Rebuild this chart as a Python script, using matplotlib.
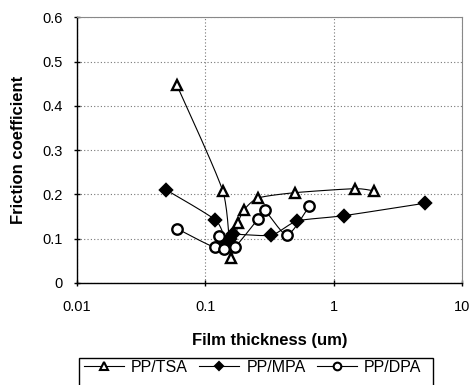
import matplotlib
matplotlib.use("Agg")
import matplotlib.pyplot as plt
from matplotlib.patches import Rectangle
import numpy as np

plt.rcParams['font.family'] = ['Liberation Sans', 'DejaVu Sans']

# Data
tsa_x = [0.06, 0.137, 0.158, 0.18, 0.2, 0.258, 0.5, 1.46, 2.06]
tsa_y = [0.447, 0.207, 0.056, 0.135, 0.165, 0.192, 0.204, 0.213, 0.208]

mpa_x = [0.049, 0.12, 0.145, 0.155, 0.165, 0.327, 0.52, 1.2, 5.1]
mpa_y = [0.211, 0.142, 0.092, 0.1, 0.11, 0.108, 0.14, 0.152, 0.18]

dpa_x = [0.06, 0.118, 0.128, 0.139, 0.17, 0.258, 0.29, 0.434, 0.643]
dpa_y = [0.123, 0.081, 0.107, 0.076, 0.081, 0.145, 0.164, 0.108, 0.173]


def smooth(xs, ys, n=20):
    # Catmull-Rom through the points in (log x, y) space, like Excel's smoothed lines
    lx = np.log10(xs)
    y = np.asarray(ys, float)
    px = np.concatenate([[lx[0]], lx, [lx[-1]]])
    py = np.concatenate([[y[0]], y, [y[-1]]])
    outx, outy = [], []
    t = np.linspace(0, 1, n)
    for i in range(1, len(px) - 2):
        for p, out in ((px, outx), (py, outy)):
            p0, p1, p2, p3 = p[i - 1], p[i], p[i + 1], p[i + 2]
            m1 = (p2 - p0) / 2 / 1.5
            m2 = (p3 - p1) / 2 / 1.5
            h00 = 2 * t**3 - 3 * t**2 + 1
            h10 = t**3 - 2 * t**2 + t
            h01 = -2 * t**3 + 3 * t**2
            h11 = t**3 - t**2
            out.extend(h00 * p1 + h10 * m1 + h01 * p2 + h11 * m2)
    return 10 ** np.array(outx), np.array(outy)


fig = plt.figure(figsize=(4.72, 3.85), dpi=100)
ax = fig.add_axes([0.163, 0.265, 0.816, 0.69])

series = [
    (tsa_x, tsa_y, '^', 'white', 'PP/TSA'),
    (mpa_x, mpa_y, 'D', 'black', 'PP/MPA'),
    (dpa_x, dpa_y, 'o', 'white', 'PP/DPA'),
]
handles = []
for xs, ys, m, fc, lab in series:
    sx, sy = smooth(xs, ys)
    ax.plot(sx, sy, color='black', lw=0.8, zorder=2)
    ax.plot(xs, ys, linestyle='none', marker=m, ms=7.5 if m != 'D' else 6,
            mfc=fc, mec='black', mew=1.7, zorder=3)
    h, = ax.plot([], [], color='black', lw=0.8, marker=m,
                 ms=5.5 if m != 'D' else 4.5, mfc=fc, mec='black', mew=1.5)
    handles.append((h, lab))

ax.set_xscale('log')
ax.set_xlim(0.01, 10)
ax.set_ylim(0, 0.6)
ax.set_xticks([0.01, 0.1, 1, 10])
ax.set_xticklabels(['0.01', '0.1', '1', '10'])
ax.set_yticks(np.arange(0, 0.61, 0.1))
ax.set_yticklabels(['0', '0.1', '0.2', '0.3', '0.4', '0.5', '0.6'])
ax.minorticks_off()
ax.tick_params(axis='both', labelsize=10.5, direction='inout', length=5, width=1)
ax.tick_params(axis='x', pad=10)
ax.tick_params(axis='y', pad=7.5)
ax.grid(True, linestyle=(0, (1, 2)), color='#777777', lw=0.8)

for s in ['top', 'right']:
    ax.spines[s].set_color('#888888')
for s in ['left', 'bottom']:
    ax.spines[s].set_color('black')
    ax.spines[s].set_linewidth(1)

ax.set_xlabel('Film thickness (um)', fontsize=12, fontweight='bold', va='center')
ax.xaxis.set_label_coords(0.5, -0.218)
ax.set_ylabel('Friction coefficient', fontsize=12, fontweight='bold', va='center')
ax.yaxis.set_label_coords(-0.151, 0.5)

# legend: box runs off the bottom edge in the original
leg = fig.legend([h for h, _ in handles], [l for _, l in handles],
                 loc='center left', bbox_to_anchor=(84 / 472, 1 - 367 / 385), ncol=3,
                 fontsize=11.5, frameon=False, borderpad=0, borderaxespad=0,
                 handlelength=2.5, columnspacing=0.7, handletextpad=0.45)
fig.patches.append(Rectangle((79 / 472, -0.02), (433 - 79) / 472, 0.02 + 27 / 385,
                             transform=fig.transFigure, fill=False,
                             edgecolor='black', lw=1))

fig.savefig('out.png', dpi=100)
